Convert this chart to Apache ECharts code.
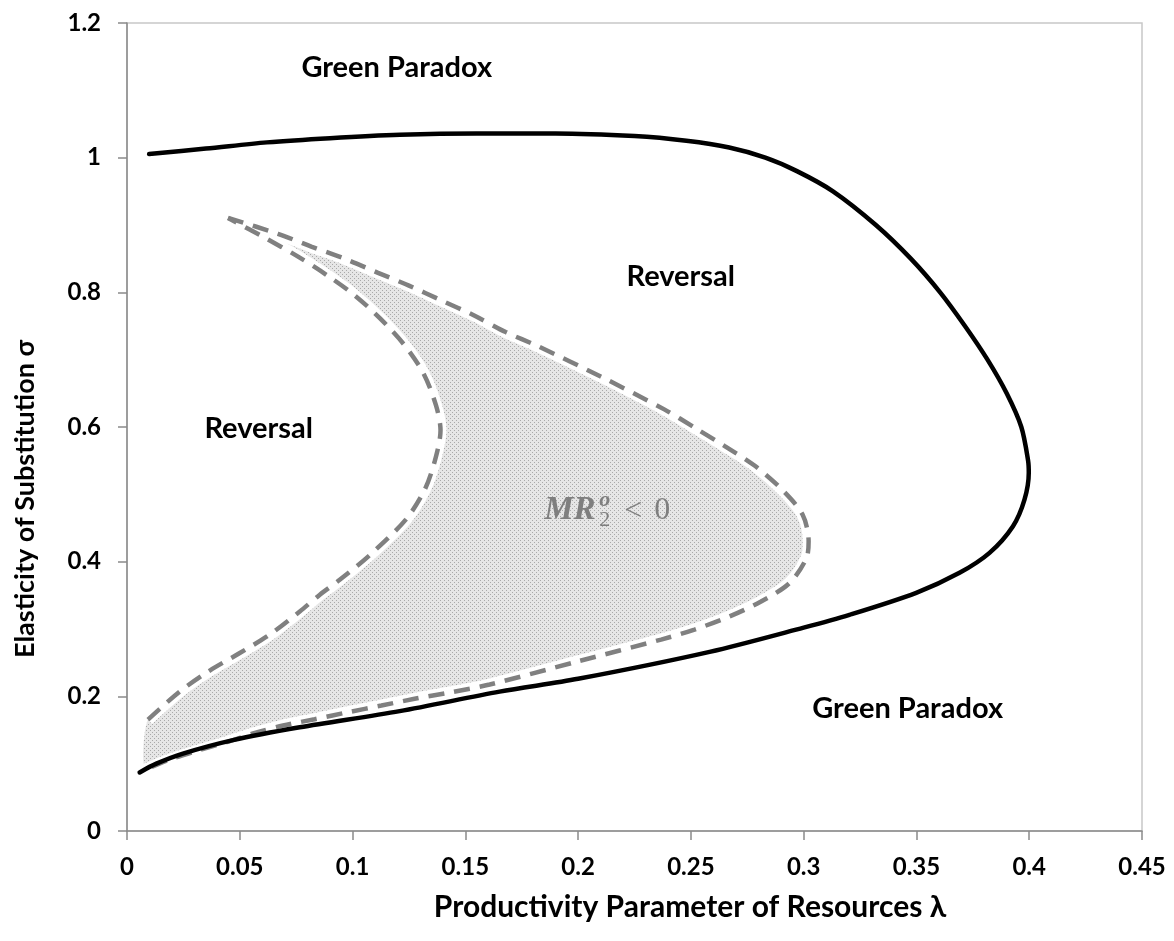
<!DOCTYPE html>
<html>
<head>
<meta charset="utf-8">
<script src="https://cdn.jsdelivr.net/npm/echarts@6/dist/echarts.min.js"></script>
<style>
  html, body { margin: 0; padding: 0; background: #ffffff; }
  #chart { width: 1174px; height: 941px; }
</style>
</head>
<body>
<div id="chart"></div>
<script>
// Tick labels
const xTickLabels = ['0', '0.05', '0.1', '0.15', '0.2', '0.25', '0.3', '0.35', '0.4', '0.45'];
const yTickLabels = ['0', '0.2', '0.4', '0.6', '0.8', '1', '1.2'];

// Solid boundary between Green Paradox and Reversal: [lambda, sigma]
const solidBoundary = [
  [0.0056, 0.087], [0.013, 0.100], [0.0248, 0.115], [0.047, 0.135], [0.0766, 0.154],
  [0.1209, 0.178], [0.1652, 0.207], [0.2, 0.226], [0.2583, 0.266], [0.30, 0.302],
  [0.3203, 0.321], [0.3499, 0.3537], [0.3691, 0.3834], [0.3824, 0.413], [0.3928, 0.4526],
  [0.3979, 0.492], [0.3998, 0.532], [0.3995, 0.55], [0.3965, 0.60], [0.390, 0.65],
  [0.3815, 0.70], [0.3715, 0.75], [0.3605, 0.80], [0.3475, 0.85], [0.332, 0.90],
  [0.313, 0.95], [0.297, 0.98], [0.283, 1.00], [0.267, 1.015], [0.248, 1.025],
  [0.225, 1.032], [0.19, 1.036], [0.155, 1.036], [0.121, 1.034], [0.09, 1.029],
  [0.062, 1.0227], [0.035, 1.0135], [0.0098, 1.0055]
];

// Outer dashed boundary of the MR region (from the upper tip, clockwise)
const outerDashed = [
  [0.0448, 0.9105], [0.0669, 0.887], [0.0817, 0.868], [0.0965, 0.850], [0.1113, 0.829],
  [0.125, 0.810], [0.1394, 0.788], [0.1537, 0.766], [0.1679, 0.741], [0.1822, 0.720],
  [0.21, 0.675], [0.2384, 0.6258], [0.2517, 0.599], [0.265, 0.5716], [0.2782, 0.5427],
  [0.2904, 0.507], [0.2995, 0.47], [0.3022, 0.43], [0.3012, 0.405], [0.2937, 0.3682],
  [0.2811, 0.3408], [0.2665, 0.3177], [0.2516, 0.2992], [0.2368, 0.2843], [0.2, 0.252],
  [0.1608, 0.2175], [0.1438, 0.2061], [0.1275, 0.1963], [0.1128, 0.1863], [0.098, 0.1764],
  [0.0832, 0.166], [0.0692, 0.1566], [0.0559, 0.1448], [0.0441, 0.1319], [0.03, 0.118],
  [0.018, 0.105], [0.008, 0.091]
];

// Inner dashed boundary of the MR region (from the lower-left start up to the tip)
const innerDashed = [
  [0.0093, 0.1655], [0.0234, 0.2071], [0.0367, 0.2383], [0.05, 0.2643], [0.0633, 0.2918],
  [0.0766, 0.326], [0.0855, 0.351], [0.0943, 0.373], [0.1077, 0.41], [0.1236, 0.4625],
  [0.132, 0.507], [0.1365, 0.55], [0.139, 0.595], [0.137, 0.632], [0.1315, 0.6793],
  [0.1231, 0.7213], [0.1123, 0.761], [0.1009, 0.7956], [0.0884, 0.826], [0.0751, 0.8545],
  [0.0613, 0.8807], [0.0448, 0.9105]
];

// Region names and where they sit (data coordinates)
const regionNames = ['Green Paradox', 'Reversal', 'Reversal', 'Green Paradox'];
const regionAnchors = [[0.1196, 1.1336], [0.2455, 0.8233], [0.0584, 0.5976], [0.3461, 0.1819]];
const mrAnchor = [0.185, 0.476];

const FONT = 'Lato, "Open Sans", sans-serif';
const SERIF = '"Liberation Serif", "DejaVu Serif", serif';
const AXIS_GREY = '#8a8a8a';
const MR_GREY = '#7f7f7f';

// Stippled fill for the MR < 0 region
const pattern = document.createElement('canvas');
pattern.width = 4; pattern.height = 4;
(function () {
  const c = pattern.getContext('2d');
  c.fillStyle = '#e6e6e6'; c.fillRect(0, 0, 4, 4);
  c.fillStyle = '#a9a9a9'; c.fillRect(0, 0, 1, 1); c.fillRect(2, 2, 1, 1);
})();

const regionPolygon = outerDashed.concat(innerDashed);

const chart = echarts.init(document.getElementById('chart'), null, { renderer: 'canvas' });

chart.setOption({
  animation: false,
  backgroundColor: '#ffffff',
  grid: {
    left: 127, right: 32, top: 23, bottom: 110,
    show: true, borderColor: '#c8c8c8', borderWidth: 1.5, backgroundColor: 'transparent'
  },
  xAxis: {
    type: 'value', min: 0, max: 0.45, interval: 0.05,
    axisLine: { show: true, onZero: false, lineStyle: { color: AXIS_GREY, width: 1.5 } },
    axisTick: { show: true, length: 9, lineStyle: { color: AXIS_GREY, width: 1.5 } },
    splitLine: { show: false },
    axisLabel: {
      margin: 24, color: '#000', fontFamily: FONT, fontWeight: 'bold', fontSize: 24,
      formatter: v => xTickLabels[Math.round(v / 0.05)]
    }
  },
  yAxis: {
    type: 'value', min: 0, max: 1.2, interval: 0.2,
    axisLine: { show: true, onZero: false, lineStyle: { color: AXIS_GREY, width: 1.5 } },
    axisTick: { show: true, length: 9, lineStyle: { color: AXIS_GREY, width: 1.5 } },
    splitLine: { show: false },
    axisLabel: {
      margin: 26, color: '#000', fontFamily: FONT, fontWeight: 'bold', fontSize: 24,
      formatter: v => yTickLabels[Math.round(v / 0.2)]
    }
  },
  series: [
    {
      type: 'custom',
      name: 'MR region',
      z: 1,
      clip: true,
      data: [[0, 0]],
      renderItem: function (params, api) {
        const pts = regionPolygon.map(p => api.coord(p));
        return {
          type: 'polygon',
          shape: { points: pts, smooth: 0.25 },
          style: { fill: { image: pattern, repeat: 'repeat' }, stroke: null }
        };
      }
    },
    {
      type: 'line', name: 'outer gap', data: outerDashed, z: 2, smooth: 0.3,
      showSymbol: false, silent: true,
      lineStyle: { color: '#ffffff', width: 12 }
    },
    {
      type: 'line', name: 'inner gap', data: innerDashed, z: 2, smooth: 0.3,
      showSymbol: false, silent: true,
      lineStyle: { color: '#ffffff', width: 12 }
    },
    {
      type: 'line', name: 'outer', data: outerDashed, z: 3, smooth: 0.3,
      showSymbol: false, silent: true,
      lineStyle: { color: '#808080', width: 4.5, type: [16, 10] }
    },
    {
      type: 'line', name: 'inner', data: innerDashed, z: 3, smooth: 0.3,
      showSymbol: false, silent: true,
      lineStyle: { color: '#808080', width: 4.5, type: [16, 10] }
    },
    {
      type: 'line', name: 'boundary', data: solidBoundary, z: 4, smooth: 0.3,
      showSymbol: false, silent: true,
      lineStyle: { color: '#000000', width: 4.5, cap: 'round', join: 'round' }
    }
  ]
});

// Titles and region annotations
const graphics = [];
regionNames.forEach((name, i) => {
  const p = chart.convertToPixel({ gridIndex: 0 }, regionAnchors[i]);
  graphics.push({
    type: 'text', x: p[0], y: p[1], z: 100,
    style: { text: name, fill: '#000', font: 'bold 29px ' + FONT, align: 'center', verticalAlign: 'middle' }
  });
});

const m = chart.convertToPixel({ gridIndex: 0 }, mrAnchor);
function mrPart(text, dx, dy, font) {
  return {
    type: 'text', x: m[0] + dx, y: m[1] + dy, z: 100,
    style: { text: text, fill: MR_GREY, font: font, align: 'left', verticalAlign: 'middle' }
  };
}
graphics.push(mrPart('MR', 0, 0, 'italic bold 33px ' + SERIF));
graphics.push(mrPart('o', 55, -10, 'italic bold 22px ' + SERIF));
graphics.push(mrPart('2', 55, 10, '22px ' + SERIF));
graphics.push(mrPart('<', 80, 1, '32px ' + SERIF));
graphics.push(mrPart('0', 110, 0, '32px ' + SERIF));

graphics.push({
  type: 'text', x: 25, y: 499, rotation: Math.PI / 2, z: 100,
  style: { text: 'Elasticity of Substitution σ', fill: '#000', font: 'bold 27px ' + FONT, align: 'center', verticalAlign: 'middle' }
});
graphics.push({
  type: 'text', x: 690, y: 907, z: 100,
  style: { text: 'Productivity Parameter of Resources λ', fill: '#000', font: 'bold 30px ' + FONT, align: 'center', verticalAlign: 'middle' }
});

chart.setOption({ graphic: graphics });
</script>
</body>
</html>
